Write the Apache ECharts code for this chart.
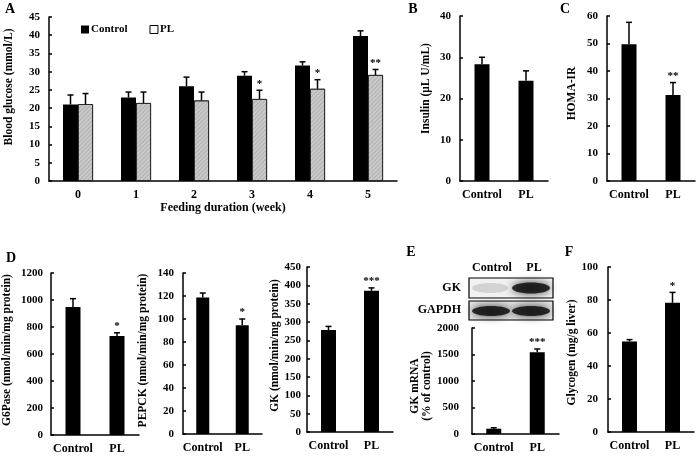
<!DOCTYPE html>
<html>
<head>
<meta charset="UTF-8">
<title>Blood glucose, insulin, enzymes</title>
<script src="https://cdn.jsdelivr.net/npm/echarts@6/dist/echarts.min.js"></script>
<style>
  body { margin: 0; background: #fff; }
  #chart { width: 699px; height: 456px; }
</style>
</head>
<body>
<div id="chart"></div>
<script>
// ---- data ----
var weeks = ['0', '1', '2', '3', '4', '5'];
var ctrlGlucose = [21.0, 22.9, 26.0, 28.9, 31.7, 39.8];
var ctrlGlucoseErr = [23.6, 24.4, 28.5, 30.0, 32.7, 41.2];
var plGlucose = [21.1, 21.4, 22.1, 22.5, 25.3, 29.1];
var plGlucoseErr = [24.0, 24.4, 24.4, 24.9, 27.8, 30.6];
var plGlucoseSig = ['', '', '', '*', '*', '**'];

var groups = ['Control', 'PL'];
var insulin = [28.3, 24.3];
var insulinErr = [30.0, 26.7];
var homa = [49.7, 31.3];
var homaErr = [57.7, 35.8];
var homaSig = ['', '**'];
var g6pase = [949, 734];
var g6paseErr = [1010, 757];
var g6paseSig = ['', '*'];
var pepck = [118.6, 94.6];
var pepckErr = [122.6, 100];
var pepckSig = ['', '*'];
var gkAct = [278, 385];
var gkActErr = [288, 393];
var gkActSig = ['', '***'];
var gkMrna = [100, 1541];
var gkMrnaErr = [118, 1604];
var gkMrnaSig = ['', '***'];
var glycogen = [54.9, 78.3];
var glycogenErr = [56, 84.6];
var glycogenSig = ['', '*'];

// ---- helpers ----
var FONT = 'Liberation Serif';
var grids = [], xAxes = [], yAxes = [], series = [];

// shift moves the rotated y name up (+) or down (-) in px
function addPanel(box, cats, max, step, name, nameGap, labelMargin, shift) {
  var i = grids.length;
  var s = shift || 0;
  grids.push({ left: box[0], top: box[1], width: box[2], height: box[3] });
  xAxes.push({
    type: 'category', gridIndex: i, data: cats,
    axisLine: { lineStyle: { color: '#000', width: 1.5 } },
    axisTick: { inside: true, length: 3, lineStyle: { color: '#000', width: 1.5 } },
    axisLabel: { interval: 0, color: '#000', fontFamily: FONT, fontWeight: 'bold', fontSize: 12, margin: 8 }
  });
  yAxes.push({
    type: 'value', gridIndex: i, min: 0, max: max, interval: step,
    name: name, nameLocation: 'middle', nameGap: nameGap,
    nameTextStyle: { color: '#000', fontFamily: FONT, fontWeight: 'bold', fontSize: 11.5, lineHeight: 12,
                     padding: [0, s < 0 ? -2 * s : 0, 0, s > 0 ? 2 * s : 0] },
    splitLine: { show: false },
    axisLine: { show: true, lineStyle: { color: '#000', width: 1.5 } },
    axisTick: { show: true, inside: true, length: 3, lineStyle: { color: '#000', width: 1.5 } },
    axisLabel: { color: '#000', fontFamily: FONT, fontWeight: 'bold', fontSize: 11, margin: labelMargin || 9,
                 formatter: function (v) { return String(v); } }
  });
  return i;
}

function errorBars(gi, vals, tops, sig, offset) {
  var data = vals.map(function (v, k) { return [k, v, tops[k]]; });
  series.push({
    type: 'custom', xAxisIndex: gi, yAxisIndex: gi, z: 5,
    encode: { x: 0, y: [1, 2] },
    data: data,
    renderItem: function (params, api) {
      var k = api.value(0);
      var p0 = api.coord([k, api.value(1)]);
      var p1 = api.coord([k, api.value(2)]);
      var x = p0[0] + (offset || 0);
      var kids = [
        { type: 'line', shape: { x1: x, y1: p0[1], x2: x, y2: p1[1] }, style: { stroke: '#000', lineWidth: 1.5 } },
        { type: 'line', shape: { x1: x - 3, y1: p1[1], x2: x + 3, y2: p1[1] }, style: { stroke: '#000', lineWidth: 1.5 } }
      ];
      var s = sig ? sig[params.dataIndex] : '';
      if (s) {
        kids.push({ type: 'text', x: x, y: p1[1] - 1, style: {
          text: s, fill: '#000', font: 'bold 11px ' + FONT, align: 'center', verticalAlign: 'bottom' } });
      }
      return { type: 'group', children: kids };
    }
  });
}

function singleBars(gi, vals, tops, sig, width) {
  series.push({
    type: 'bar', xAxisIndex: gi, yAxisIndex: gi, data: vals, barWidth: width || 15,
    itemStyle: { color: '#000' }
  });
  errorBars(gi, vals, tops, sig, 0);
}

// ---- panel A ----
var a = addPanel([49, 17, 348, 164], weeks, 45, 5, 'Blood glucose (mmol/L)', 34, 9, 12);
xAxes[a].name = 'Feeding duration (week)';
xAxes[a].nameLocation = 'middle';
xAxes[a].nameGap = 21;
xAxes[a].nameTextStyle = { color: '#000', fontFamily: FONT, fontWeight: 'bold', fontSize: 12 };
series.push({
  name: 'Control', type: 'bar', xAxisIndex: a, yAxisIndex: a, data: ctrlGlucose,
  barWidth: 15, barGap: '0%', itemStyle: { color: '#000' }
});
series.push({
  name: 'PL', type: 'bar', xAxisIndex: a, yAxisIndex: a, data: plGlucose,
  barWidth: 15, barGap: '0%',
  itemStyle: {
    color: '#c9c9c9', borderColor: '#222', borderWidth: 0.8,
    decal: { symbol: 'rect', symbolSize: 1, dashArrayX: [1, 0], dashArrayY: [1, 2],
             rotation: -Math.PI / 4, color: 'rgba(0,0,0,0.12)' }
  }
});
errorBars(a, ctrlGlucose, ctrlGlucoseErr, null, -7.5);
errorBars(a, plGlucose, plGlucoseErr, plGlucoseSig, 7.5);

// ---- panel B, C ----
var b = addPanel([460, 16, 88, 165], groups, 40, 10, 'Insulin (\u03bcL U/mL)', 28, 9, 10);
singleBars(b, insulin, insulinErr, null);
var c = addPanel([607, 16, 88, 165], groups, 60, 10, 'HOMA-IR', 29, 9, 5);
singleBars(c, homa, homaErr, homaSig);

// ---- panel D ----
var d1 = addPanel([51, 273, 88, 162], groups, 1200, 200, 'G6Pase (nmol/min/mg protein)', 38, 8, 4);
singleBars(d1, g6pase, g6paseErr, g6paseSig);
var d2 = addPanel([183, 273, 79, 161], groups, 140, 20, 'PEPCK (nmol/min/mg protein)', 34, 9, 3);
singleBars(d2, pepck, pepckErr, pepckSig, 13);
var d3 = addPanel([307, 267, 86, 165], groups, 450, 50, 'GK (nmol/min/mg protein)', 25, 6, 4);
singleBars(d3, gkAct, gkActErr, gkActSig);

// ---- panel E, F ----
var e = addPanel([472, 328, 87, 106], groups, 2000, 500, 'GK mRNA\n(% of control)', 38, 13, -5);
singleBars(e, gkMrna, gkMrnaErr, gkMrnaSig);
var f = addPanel([608, 267, 86, 165], groups, 100, 20, 'Glycogen (mg/g liver)', 30, 10, -3);
singleBars(f, glycogen, glycogenErr, glycogenSig);

// ---- letters and western blot ----
function txt(x, y, s, size, align) {
  return { type: 'text', x: x, y: y, style: {
    text: s, fill: '#000', font: 'bold ' + size + 'px ' + FONT,
    align: align || 'center', verticalAlign: 'middle' } };
}
function band(cx, cy, rx, ry, alpha, blur) {
  return { type: 'ellipse', shape: { cx: cx, cy: cy, rx: rx, ry: ry },
    style: { fill: 'rgba(15,15,15,' + alpha + ')', shadowBlur: blur, shadowColor: 'rgba(0,0,0,' + alpha + ')' } };
}
var blot = [
  txt(10, 9, 'A', 14), txt(413, 9, 'B', 14), txt(565, 9, 'C', 14),
  txt(11, 258, 'D', 14), txt(411, 252, 'E', 14), txt(569, 252, 'F', 14),
  txt(492, 268, 'Control', 12), txt(534, 268, 'PL', 12),
  txt(461, 288, 'GK', 12, 'right'), txt(461, 310, 'GAPDH', 12, 'right'),
  { type: 'rect', shape: { x: 469, y: 278, width: 84, height: 20 }, style: { fill: '#f2f2f2', stroke: '#000', lineWidth: 1.2 } },
  band(490, 288, 18, 5, 0.13, 8),
  band(531, 288, 19, 5.5, 0.85, 8),
  { type: 'rect', shape: { x: 469, y: 301, width: 84, height: 19 }, style: { fill: '#e6e6e6', stroke: '#000', lineWidth: 1.2 } },
  band(491, 311, 19, 5, 0.85, 8),
  band(531, 311, 19, 5, 0.85, 8)
];

var chart = echarts.init(document.getElementById('chart'));
chart.setOption({
  animation: false,
  textStyle: { fontFamily: FONT },
  legend: {
    left: 76, top: 19, itemWidth: 8, itemHeight: 8, itemGap: 22, icon: 'rect',
    textStyle: { color: '#000', fontFamily: FONT, fontWeight: 'bold', fontSize: 11, padding: [0, 0, 0, -3] },
    data: [
      { name: 'Control', itemStyle: { color: '#000' } },
      { name: 'PL', itemStyle: { color: '#fff', borderColor: '#000', borderWidth: 1, decal: 'none' } }
    ]
  },
  grid: grids,
  xAxis: xAxes,
  yAxis: yAxes,
  series: series,
  graphic: blot
});
</script>
</body>
</html>
